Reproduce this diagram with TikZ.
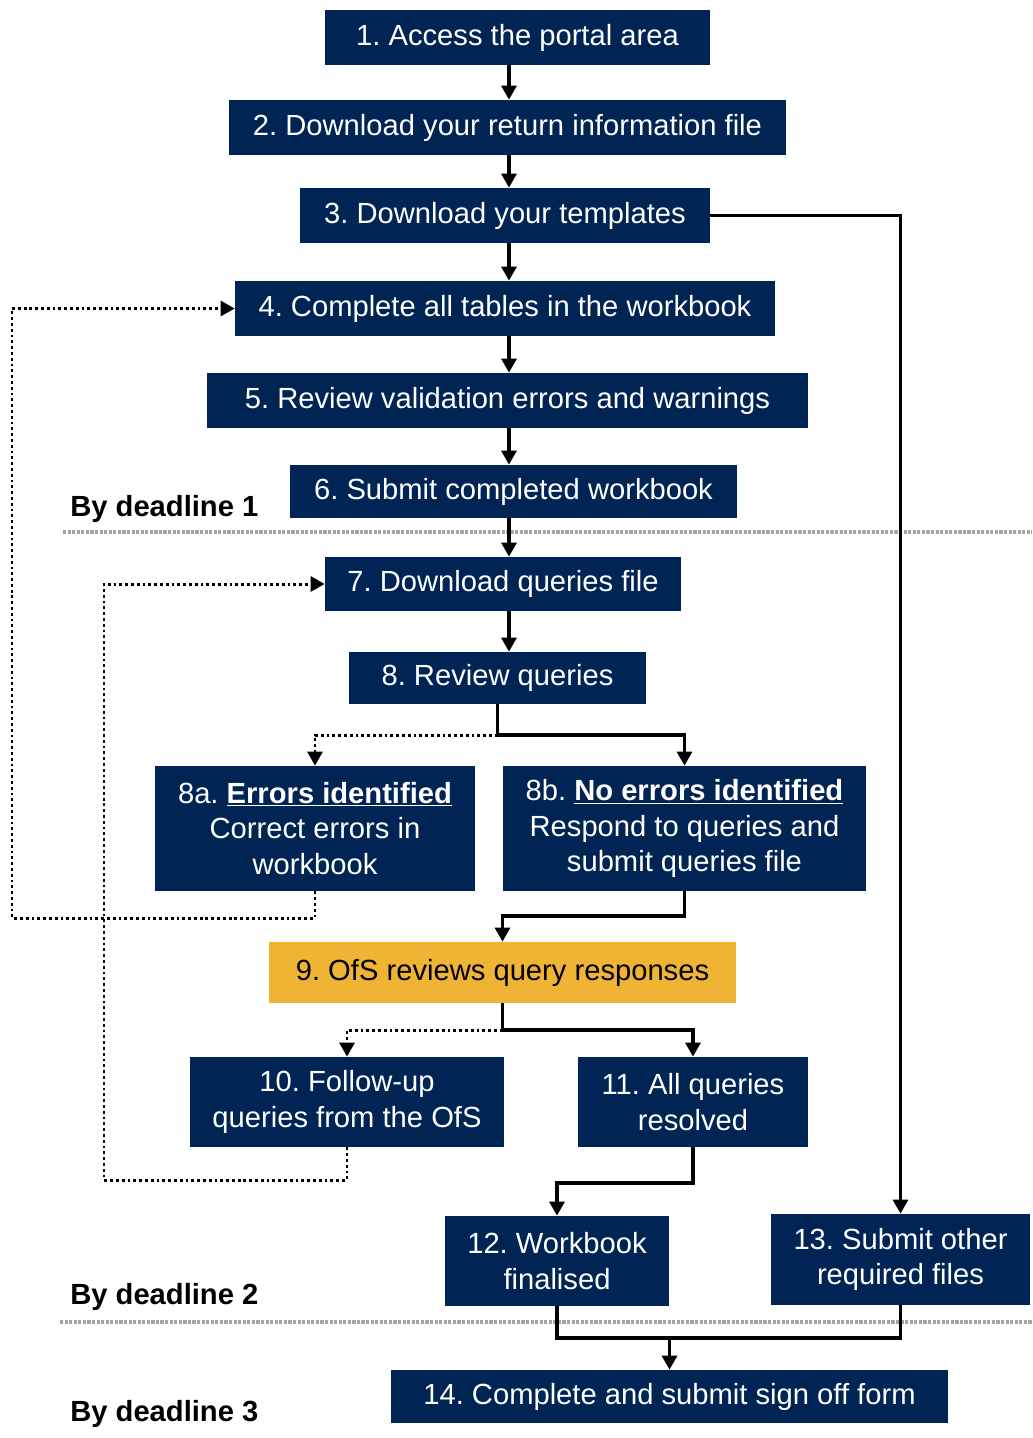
\documentclass[tikz,border=0pt]{standalone}
\usepackage{fontspec}
\setmainfont{Liberation Sans}
\usepackage{tikz}
\usetikzlibrary{arrows.meta,positioning,calc}
\definecolor{navy}{RGB}{0,36,84}
\definecolor{gold}{RGB}{240,180,52}
\definecolor{rulegrey}{RGB}{165,165,165}
\tikzset{
  every picture/.style={font=\fontsize{16.6}{20.4}\selectfont\frenchspacing},
  stepbox/.style={fill=navy,text=white,inner sep=0pt,align=center},
  ofsbox/.style={fill=gold,text=black,inner sep=0pt,align=center},
  flow/.style={line width=1.9pt,-{Triangle[length=8pt,width=8.5pt]}},
  joint/.style={line width=1.9pt},
  loopback/.style={line width=1.7pt,dash pattern=on 1.6pt off 1.7pt,-{Triangle[length=8pt,width=8.5pt]}},
  deadline/.style={rulegrey,line width=2.4pt,dash pattern=on 1.8pt off 0.8pt},
  deadlabel/.style={anchor=west,inner sep=0pt,font=\fontsize{16.6}{20}\selectfont\bfseries},
}

\begin{document}
\begin{tikzpicture}[x=0.02cm,y=-0.02cm]
  \useasboundingbox (0,0) rectangle (1032,1438);
  % deadlines
  \draw[deadline] (63,532) -- (1032,532);
  \draw[deadline] (60,1322) -- (1032,1322);
  \node[deadlabel] (d1) at (70,509) {By deadline 1};
  \node[deadlabel] (d2) at (70,1297) {By deadline 2};
  \node[deadlabel] (d3) at (70,1414) {By deadline 3};
  % steps
  \node[stepbox,minimum width=7.7cm,minimum height=1.1cm] (s1) at (517.5,37.5) {1. Access the portal area};
  \node[stepbox,minimum width=11.14cm,minimum height=1.1cm] (s2) at (507.5,127.5) {2. Download your return information file};
  \node[stepbox,minimum width=8.2cm,minimum height=1.1cm] (s3) at (505,215.5) {3. Download your templates};
  \node[stepbox,minimum width=10.8cm,minimum height=1.1cm] (s4) at (505,308.5) {4. Complete all tables in the workbook};
  \node[stepbox,minimum width=12.02cm,minimum height=1.1cm] (s5) at (507.5,400.5) {5. Review validation errors and warnings};
  \node[stepbox,minimum width=8.94cm,minimum height=1.06cm] (s6) at (513.5,491.5) {6. Submit completed workbook};
  \node[stepbox,minimum width=7.12cm,minimum height=1.08cm] (s7) at (503,584) {7. Download queries file};
  \node[stepbox,minimum width=5.94cm,minimum height=1.04cm] (s8) at (497.5,678) {8. Review queries};
  \node[stepbox,minimum width=6.4cm,minimum height=2.5cm] (s8a) at (315,828.5)
    {8a. \underline{\textbf{Errors identified}}\\Correct errors in\\workbook};
  \node[stepbox,minimum width=7.26cm,minimum height=2.5cm] (s8b) at (684.5,828.5)
    {8b. \underline{\textbf{No errors identified}}\\Respond to queries and\\submit queries file};
  \node[ofsbox,minimum width=9.34cm,minimum height=1.22cm] (s9) at (502.5,972.5) {9. OfS reviews query responses};
  \node[stepbox,minimum width=6.28cm,minimum height=1.8cm] (s10) at (347,1102) {10. Follow-up\\queries from the OfS};
  \node[stepbox,minimum width=4.6cm,minimum height=1.8cm] (s11) at (693,1102) {11. All queries\\resolved};
  \node[stepbox,minimum width=4.48cm,minimum height=1.8cm] (s12) at (557,1261) {12. Workbook\\finalised};
  \node[stepbox,minimum width=5.18cm,minimum height=1.82cm] (s13) at (900.5,1259.5) {13. Submit other\\required files};
  \node[stepbox,minimum width=11.14cm,minimum height=1.06cm] (s14) at (669.5,1396.5) {14. Complete and submit sign off form};
  % main line
  \coordinate (spine) at (509,0);
  \foreach \a/\b in {s1/s2,s2/s3,s3/s4,s4/s5,s5/s6,s6/s7,s7/s8}{
    \draw[flow] (\a.south -| spine) -- (\b.north -| spine);
  }
  \draw[flow] (s8.south) -- (s8.south |- 0,735) -| (s8b.north);
  \draw[loopback] (s8.south |- 0,735) -| (s8a.north);
  \draw[loopback] (s8a.south) |- (12,918) |- (s4.west);
  \draw[flow] (s8b.south) -- (s8b.south |- 0,916) -| (s9.north);
  \draw[flow] (s9.south) -- (s9.south |- 0,1030) -| (s11.north);
  \draw[loopback] (s9.south |- 0,1030) -| (s10.north);
  \draw[loopback] (s10.south) |- (104,1180) |- (s7.west);
  \draw[flow] (s11.south) -- (s11.south |- 0,1183) -| (s12.north);
  \draw[flow] (s3.east) -| (s13.north);
  \draw[joint] (s12.south) |- (s13.south |- 0,1338) -- (s13.south);
  \draw[flow] (s14.north |- 0,1338) -- (s14.north);
\end{tikzpicture}
\end{document}
